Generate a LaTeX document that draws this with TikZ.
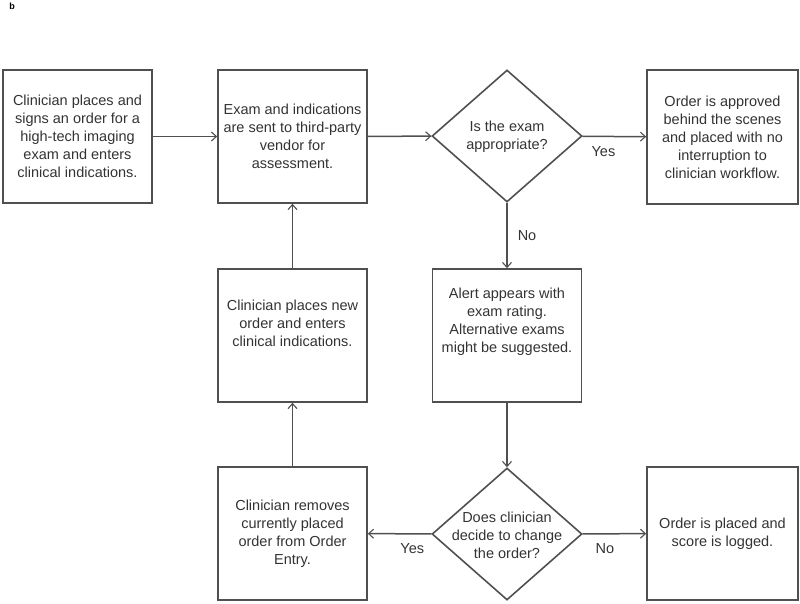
\documentclass[tikz,border=0pt]{standalone}
\usepackage{fontspec}
\setmainfont{Liberation Sans}
\usetikzlibrary{shapes.geometric,arrows.meta}
\definecolor{ln}{HTML}{505050}
\definecolor{tx}{HTML}{333333}
\tikzset{
  stepbox/.style={draw=ln, line width=1.6pt, minimum width=149pt, minimum height=133pt, inner sep=0pt, align=center, text=tx, font=\fontsize{14.5}{18}\selectfont},
  decbox/.style={draw=ln, line width=1.6pt, diamond, minimum width=150pt, minimum height=132pt, inner sep=0pt},
  dectext/.style={align=center, text=tx, font=\fontsize{14.5}{18}\selectfont, inner sep=0pt},
  conn/.style={draw=ln, line width=1.5pt, -{Straight Barb[length=5pt,width=9pt,line width=1.1pt]}},
  lab/.style={text=tx, font=\fontsize{14.5}{16}\selectfont, inner sep=0pt}
}
\begin{document}
\begin{tikzpicture}[x=1pt,y=-1pt]
\useasboundingbox (0,0) rectangle (800,603);
\node[font=\bfseries\fontsize{9}{10}\selectfont, text=black, inner sep=0pt] (blabel) at (12,6) {b};
\node[stepbox] (b1) at (77.5,136.5) {Clinician places and\\signs an order for a\\high-tech imaging\\exam and enters\\clinical indications.};
\node[stepbox] (b2) at (292.5,136.5) {Exam and indications\\are sent to third-party\\vendor for\\assessment.};
\node[decbox] (d1) at (507,136) {};
\node[dectext] (d1t) at (507,137) {Is the exam\\appropriate?};
\node[stepbox, minimum width=151pt, minimum height=134pt] (b3) at (722.5,137) {Order is approved\\behind the scenes\\and placed with no\\interruption to\\clinician workflow.};
\node[stepbox] (b4) at (507,335.5) {Alert appears with\\exam rating.\\Alternative exams\\might be suggested.\\[12pt]};
\node[stepbox] (b5) at (292.5,335.5) {Clinician places new\\order and enters\\clinical indications.\\[6pt]};
\node[stepbox] (b6) at (292.5,533.5) {Clinician removes\\currently placed\\order from Order\\Entry.};
\node[decbox] (d2) at (507,534) {};
\node[dectext] (d2t) at (507,535) {Does clinician\\decide to change\\the order?};
\node[stepbox, minimum width=151pt] (b7) at (722.5,533.5) {Order is placed and\\score is logged.};
\draw[conn] (b1) -- (b2);
\draw[conn] (b2) -- (d1);
\draw[conn] (d1) -- node[lab, pos=0.33, below=9pt] (yes1) {Yes} (b3);
\draw[conn] (d1) -- node[lab, pos=0.5, right=10pt] (no1) {No} (b4);
\draw[conn] (b4) -- (d2);
\draw[conn] (d2) -- node[lab, pos=0.3, below=9pt] (yes2) {Yes} (b6);
\draw[conn] (d2) -- node[lab, pos=0.35, below=9pt] (no2) {No} (b7);
\draw[conn] (b6) -- (b5);
\draw[conn] (b5) -- (b2);
\end{tikzpicture}
\end{document}
